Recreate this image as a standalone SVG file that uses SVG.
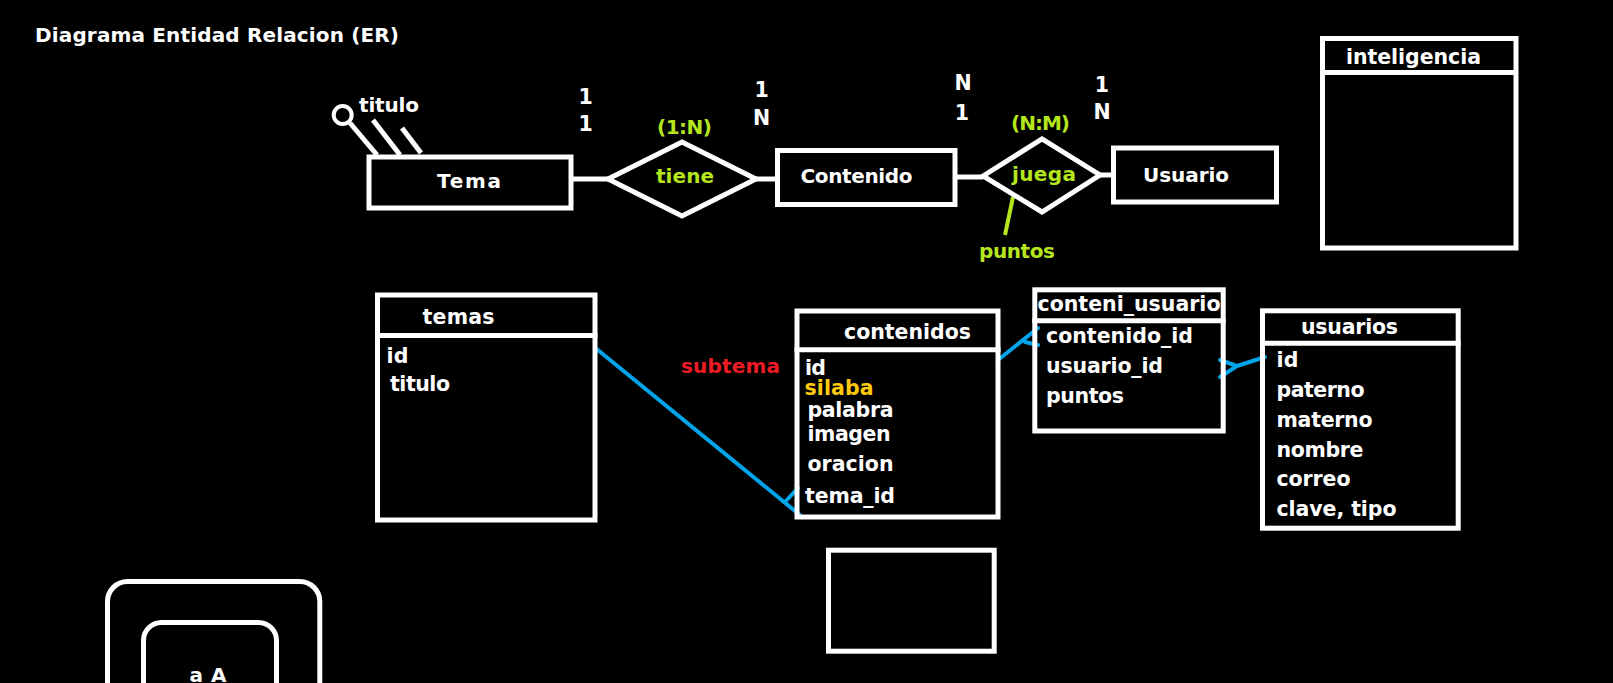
<svg xmlns="http://www.w3.org/2000/svg" width="1613" height="683" viewBox="0 0 1613 683">
<style>
.t{font-family:"DejaVu Sans","Liberation Sans",Arial,sans-serif;font-weight:bold;font-size:20px;fill:#fff}
.f{font-size:20.5px}
.g{fill:#B5E61D}
.r{fill:#ED1C24}
.y{fill:#FFC90E}
.box{fill:none;stroke:#fff;stroke-width:5}
.ln{fill:none;stroke:#fff;stroke-width:5}
.blue{fill:none;stroke:#00A2E8;stroke-width:4;stroke-linecap:round;stroke-linejoin:round}
.grn{fill:none;stroke:#B5E61D;stroke-width:4}
</style>
<rect x="0" y="0" width="1613" height="683" fill="#000"/>
<text class="t" x="35" y="42" textLength="364">Diagrama Entidad Relacion (ER)</text>

<g id="connectors">
<line class="ln" x1="571" y1="179" x2="608" y2="179"/>
<line class="ln" x1="756" y1="179" x2="777" y2="179"/>
<line class="ln" x1="955" y1="177" x2="983" y2="177"/>
<line class="ln" x1="1100" y1="175" x2="1113" y2="175"/>
<line class="grn" x1="1013" y1="197" x2="1005" y2="235"/>
<path class="blue" d="M595.7,348.3 L800,515 M785,502 L798,488"/>
<path class="blue" d="M998,360 L1038,328 M1025,342 L1038,345"/>
<path class="blue" d="M1220,360 L1237,366 L1220,377 M1237,366 L1265,357"/>
</g>

<g id="tema">
<rect class="box" x="369" y="157" width="202" height="51"/>
<text class="t" x="437" y="188" textLength="64">Tema</text>
</g>
<g id="attr-titulo">
<circle cx="342.7" cy="115" r="9" fill="none" stroke="#fff" stroke-width="4"/>
<line class="ln" x1="350" y1="123" x2="377" y2="155"/>
<line class="ln" x1="373" y1="120" x2="400" y2="155"/>
<line class="ln" x1="402" y1="128" x2="421" y2="153"/>
<text class="t" x="359" y="112" textLength="60">titulo</text>
</g>
<g id="tiene">
<polygon class="box" points="608,179 682,142 756,179 682,216"/>
<text class="t g" x="656" y="183" textLength="58">tiene</text>
<text class="t g" x="657" y="134" textLength="55">(1:N)</text>
</g>
<g id="card-tiene">
<text class="t f" x="585.7" y="104" text-anchor="middle">1</text>
<text class="t f" x="585.7" y="131" text-anchor="middle">1</text>
<text class="t f" x="761.7" y="97" text-anchor="middle">1</text>
<text class="t f" x="761.7" y="125" text-anchor="middle">N</text>
</g>
<g id="contenido">
<rect class="box" x="777.5" y="150.5" width="177.5" height="54"/>
<text class="t" x="800.5" y="183" textLength="112">Contenido</text>
</g>
<g id="juega">
<polygon class="box" points="983,176 1042,139 1100,175 1042,212"/>
<text class="t g" x="1012" y="181" textLength="64">juega</text>
<text class="t g" x="1011" y="130" textLength="59">(N:M)</text>
<text class="t g" x="979" y="258" textLength="76">puntos</text>
</g>
<g id="card-juega">
<text class="t f" x="963" y="90" text-anchor="middle">N</text>
<text class="t f" x="962" y="120" text-anchor="middle">1</text>
<text class="t f" x="1102" y="92" text-anchor="middle">1</text>
<text class="t f" x="1102" y="119" text-anchor="middle">N</text>
</g>
<g id="usuario">
<rect class="box" x="1113.5" y="148" width="163" height="54"/>
<text class="t" x="1143" y="182" textLength="86">Usuario</text>
</g>

<g id="inteligencia">
<rect class="box" x="1322.5" y="38.5" width="193.5" height="209.5"/>
<line class="ln" x1="1320" y1="72.5" x2="1518" y2="72.5"/>
<text class="t f" x="1346" y="64" textLength="135">inteligencia</text>
</g>

<g id="temas">
<rect class="box" x="377.5" y="295" width="217.5" height="225"/>
<line class="ln" x1="375" y1="335.5" x2="597.5" y2="335.5"/>
<text class="t f" x="422.5" y="324" textLength="72">temas</text>
<text class="t f" x="386.5" y="363" textLength="22">id</text>
<text class="t f" x="390" y="391" textLength="60">titulo</text>
</g>
<text class="t r" x="681" y="372.5" textLength="99">subtema</text>

<g id="contenidos">
<rect class="box" x="797" y="311" width="201" height="206"/>
<line class="ln" x1="794.5" y1="349.7" x2="1000.5" y2="349.7"/>
<text class="t f" x="844" y="339" textLength="127">contenidos</text>
<text class="t f" x="805" y="375" textLength="21">id</text>
<text class="t f y" x="804.5" y="395" textLength="69">silaba</text>
<text class="t f" x="807.5" y="416.5" textLength="86">palabra</text>
<text class="t f" x="807.5" y="440.5" textLength="83">imagen</text>
<text class="t f" x="807.5" y="471" textLength="86">oracion</text>
<text class="t f" x="805" y="502.5" textLength="90">tema_id</text>
</g>

<g id="conteni_usuario">
<rect class="box" x="1034.8" y="289.8" width="188.4" height="141.2"/>
<line class="ln" x1="1032.3" y1="320.8" x2="1225.7" y2="320.8"/>
<text class="t f" x="1037.5" y="310.5" textLength="183">conteni_usuario</text>
<text class="t f" x="1046" y="343" textLength="147">contenido_id</text>
<text class="t f" x="1046" y="373" textLength="117">usuario_id</text>
<text class="t f" x="1046" y="403" textLength="78">puntos</text>
</g>

<g id="usuarios">
<rect class="box" x="1262.5" y="310.8" width="195.7" height="217.4"/>
<line class="ln" x1="1260" y1="343.3" x2="1460.7" y2="343.3"/>
<text class="t f" x="1301" y="334" textLength="97">usuarios</text>
<text class="t f" x="1276.5" y="366.5" textLength="22">id</text>
<text class="t f" x="1276.5" y="396.5" textLength="88">paterno</text>
<text class="t f" x="1276.5" y="426.5" textLength="96">materno</text>
<text class="t f" x="1276.5" y="456.5" textLength="87">nombre</text>
<text class="t f" x="1276.5" y="485.5" textLength="74">correo</text>
<text class="t f" x="1276.5" y="516" textLength="120">clave, tipo</text>
</g>

<g id="empty-box">
<rect class="box" x="828.5" y="550.2" width="165.7" height="101"/>
</g>

<g id="key-outer">
<rect class="box" x="107.5" y="581.5" width="212.3" height="200" rx="20"/>
</g>
<g id="key-inner">
<rect class="box" x="143.5" y="622.5" width="133" height="150" rx="18"/>
<text class="t" x="189.5" y="682" textLength="37">a A</text>
</g>
</svg>
